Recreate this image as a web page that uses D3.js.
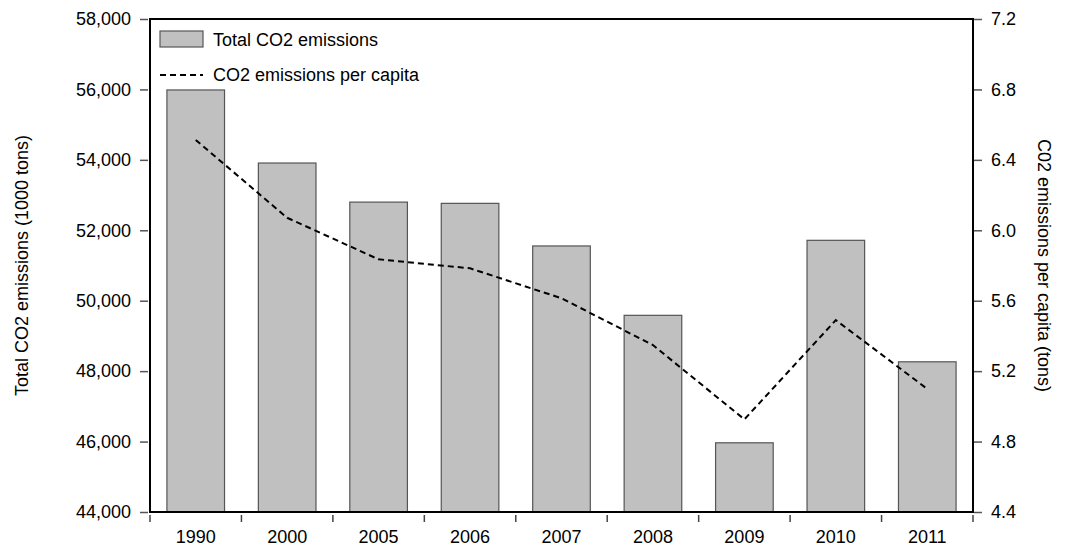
<!DOCTYPE html>
<html>
<head>
<meta charset="utf-8">
<script src="https://cdn.jsdelivr.net/npm/d3@7"></script>
<style>
  body { margin: 0; background: #fff; }
  svg text { font-family: "Liberation Sans", Arial, sans-serif; fill: #000; }
</style>
</head>
<body>
<div id="chart"></div>
<script>
// values
var years = ["1990", "2000", "2005", "2006", "2007", "2008", "2009", "2010", "2011"];
var totalEmissions = [55985, 53910, 52800, 52765, 51555, 49585, 45965, 51715, 48265];
var perCapita = [6.513, 6.071, 5.835, 5.784, 5.614, 5.348, 4.926, 5.490, 5.099];
var leftTicks = [44000, 46000, 48000, 50000, 52000, 54000, 56000, 58000];
var rightTicks = [4.4, 4.8, 5.2, 5.6, 6.0, 6.4, 6.8, 7.2];

var svgWidth = 1081;
var svgHeight = 553;
var margin = { top: 19, right: 108, bottom: 41, left: 150 };
var width = svgWidth - margin.left - margin.right;
var height = svgHeight - margin.top - margin.bottom;

var svg = d3.select("#chart")
  .append("svg")
  .attr("width", svgWidth)
  .attr("height", svgHeight);

var chartGroup = svg.append("g")
  .attr("transform", `translate(${margin.left}, ${margin.top})`);

var xScale = d3.scaleBand()
  .domain(years)
  .range([0, width])
  .paddingInner(0.37)
  .paddingOuter(0.185);

var xBands = d3.scaleBand().domain(years).range([0, width]);

var yLeft = d3.scaleLinear().domain([44000, 58000]).range([height, 0]);
var yRight = d3.scaleLinear().domain([4.4, 7.2]).range([height, 0]);

// bars
chartGroup.selectAll("rect.bar")
  .data(years)
  .enter()
  .append("rect")
  .attr("class", "bar")
  .attr("x", d => xScale(d))
  .attr("width", xScale.bandwidth())
  .attr("y", (d, i) => yLeft(totalEmissions[i]))
  .attr("height", (d, i) => height - yLeft(totalEmissions[i]))
  .attr("fill", "#c0c0c0")
  .attr("stroke", "#555")
  .attr("stroke-width", 1.2);

// per capita line
var line = d3.line()
  .x((d, i) => xBands(years[i]) + xBands.bandwidth() / 2)
  .y(d => yRight(d));

chartGroup.append("path")
  .datum(perCapita)
  .attr("d", line)
  .attr("fill", "none")
  .attr("stroke", "#000")
  .attr("stroke-width", 2)
  .attr("stroke-dasharray", "6,4");

// frame
chartGroup.append("rect")
  .attr("x", 0)
  .attr("y", 0)
  .attr("width", width)
  .attr("height", height)
  .attr("fill", "none")
  .attr("stroke", "#000")
  .attr("stroke-width", 2);

// axes
var leftAxis = d3.axisLeft(yLeft)
  .tickValues(leftTicks)
  .tickFormat(d3.format(","))
  .tickSize(8)
  .tickSizeOuter(0)
  .tickPadding(9);

var rightAxis = d3.axisRight(yRight)
  .tickValues(rightTicks)
  .tickFormat(d3.format(".1f"))
  .tickSize(8)
  .tickSizeOuter(0)
  .tickPadding(9);

var bottomAxis = d3.axisBottom(xBands)
  .tickValues([])
  .tickSizeOuter(0);

var gl = chartGroup.append("g")
  .attr("transform", "translate(-2, 0)")
  .call(leftAxis);

var gr = chartGroup.append("g")
  .attr("transform", `translate(${width + 1}, 0)`)
  .call(rightAxis);

[gl, gr].forEach(function(g) {
  g.select(".domain").remove();
  g.selectAll(".tick line").attr("stroke", "#555").attr("stroke-width", 1.5);
  g.selectAll(".tick text").attr("font-size", "18px").attr("font-family", "Liberation Sans, Arial, sans-serif");
});

// x axis: ticks at band boundaries, labels at band centres
var gx = chartGroup.append("g")
  .attr("transform", `translate(0, ${height})`);

var boundaries = years.map(d => xBands(d)).concat([width]);
gx.selectAll("line.xtick")
  .data(boundaries)
  .enter()
  .append("line")
  .attr("x1", d => d)
  .attr("x2", d => d)
  .attr("y1", 3)
  .attr("y2", 10)
  .attr("stroke", "#444")
  .attr("stroke-width", 1.5);

gx.selectAll("text.xlabel")
  .data(years)
  .enter()
  .append("text")
  .attr("x", d => xBands(d) + xBands.bandwidth() / 2)
  .attr("y", 31)
  .attr("text-anchor", "middle")
  .attr("font-size", "18px")
  .text(d => d);

// axis titles
svg.append("text")
  .attr("transform", `translate(28, ${margin.top + height / 2}) rotate(-90)`)
  .attr("text-anchor", "middle")
  .attr("font-size", "18px")
  .text("Total CO2 emissions (1000 tons)");

svg.append("text")
  .attr("transform", `translate(1038, ${margin.top + height / 2}) rotate(90)`)
  .attr("text-anchor", "middle")
  .attr("font-size", "18px")
  .text("C02 emissions per capita (tons)");

// legend
var legend = chartGroup.append("g").attr("transform", "translate(10, 12)");
legend.append("rect")
  .attr("x", 0)
  .attr("y", 0)
  .attr("width", 43)
  .attr("height", 16)
  .attr("fill", "#c0c0c0")
  .attr("stroke", "#555")
  .attr("stroke-width", 1.2);
legend.append("text")
  .attr("x", 53)
  .attr("y", 15)
  .attr("font-size", "18px")
  .text("Total CO2 emissions");
legend.append("line")
  .attr("x1", 0)
  .attr("x2", 43)
  .attr("y1", 44)
  .attr("y2", 44)
  .attr("stroke", "#000")
  .attr("stroke-width", 2)
  .attr("stroke-dasharray", "6,4");
legend.append("text")
  .attr("x", 53)
  .attr("y", 50)
  .attr("font-size", "18px")
  .text("CO2 emissions per capita");
</script>
</body>
</html>
